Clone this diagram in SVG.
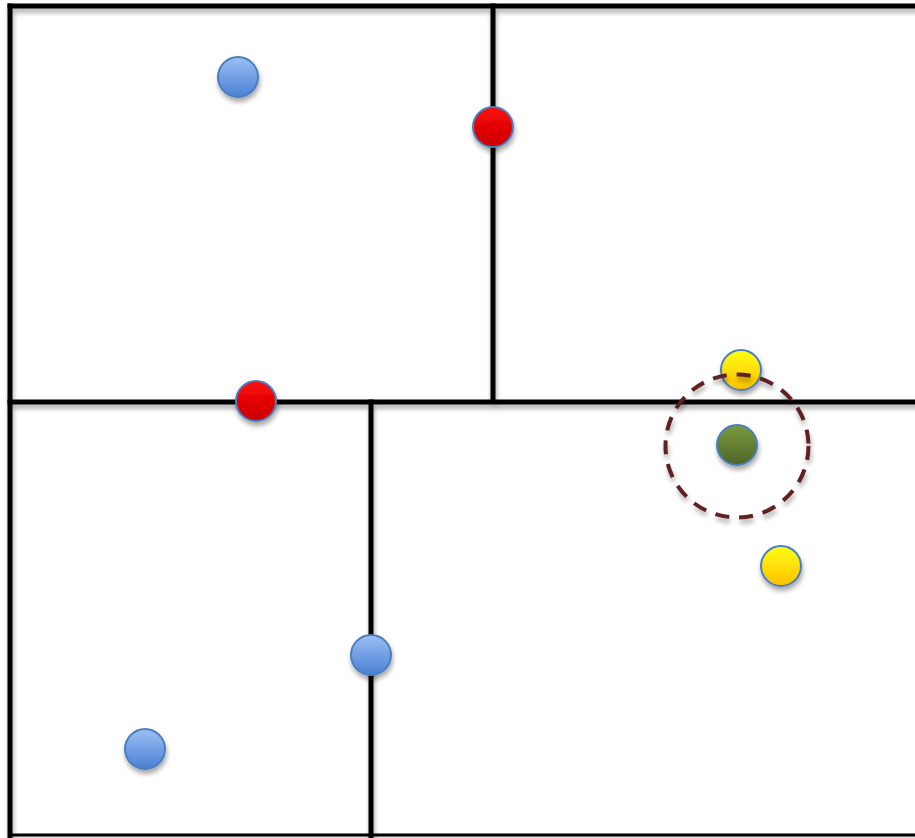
<svg xmlns="http://www.w3.org/2000/svg" width="915" height="838" viewBox="0 0 915 838">
<defs>
<filter id="sh" x="-20%" y="-20%" width="140%" height="160%">
<feGaussianBlur in="SourceAlpha" stdDeviation="2.5"/>
<feOffset dx="1" dy="4" result="b"/>
<feComponentTransfer><feFuncA type="linear" slope="0.35"/></feComponentTransfer>
<feMerge><feMergeNode/><feMergeNode in="SourceGraphic"/></feMerge>
</filter>
<linearGradient id="gBlue" x1="0" y1="0" x2="0" y2="1"><stop offset="0" stop-color="#9cc0f5"/><stop offset="1" stop-color="#4a80d2"/></linearGradient>
<linearGradient id="gRed" x1="0" y1="0" x2="0" y2="1"><stop offset="0" stop-color="#ff0a0a"/><stop offset="1" stop-color="#c80000"/></linearGradient>
<linearGradient id="gYel" x1="0" y1="0" x2="0" y2="1"><stop offset="0" stop-color="#ffff10"/><stop offset="1" stop-color="#ffbf00"/></linearGradient>
<linearGradient id="gGrn" x1="0" y1="0" x2="0" y2="1"><stop offset="0" stop-color="#7a9a3c"/><stop offset="1" stop-color="#4f6528"/></linearGradient>
</defs>
<style>
.ln{stroke:#000;stroke-width:5;fill:none;stroke-linecap:square}
.dot{stroke:#4a7ebf;stroke-width:2}
</style>
<rect width="915" height="838" fill="#fff"/>
<g id="connectors" filter="url(#sh)">
<line class="ln" x1="10" y1="6" x2="918" y2="6"/>
<line class="ln" x1="10" y1="6" x2="10" y2="840"/>
<line class="ln" x1="10" y1="835" x2="918" y2="835" style="stroke-width:3"/>
<line class="ln" x1="493" y1="6" x2="493" y2="400"/>
<line class="ln" x1="10" y1="402" x2="918" y2="402"/>
<line class="ln" x1="371" y1="402" x2="371" y2="840"/>
</g>
<g id="n1" filter="url(#sh)"><circle class="dot" cx="238" cy="77" r="20" fill="url(#gBlue)"/></g>
<g id="n2" filter="url(#sh)"><circle class="dot" cx="493" cy="127" r="20" fill="url(#gRed)"/></g>
<g id="n3" filter="url(#sh)"><circle class="dot" cx="256" cy="401" r="20" fill="url(#gRed)"/></g>
<g id="n4" filter="url(#sh)"><circle class="dot" cx="741" cy="370" r="20" fill="url(#gYel)"/></g>
<g id="range" filter="url(#sh)">
<circle cx="737" cy="446" r="71.5" fill="none" stroke="#5e2020" stroke-width="4" stroke-dasharray="14 10"/>
</g>
<g id="n5" filter="url(#sh)"><circle class="dot" cx="737" cy="445" r="20" fill="url(#gGrn)"/></g>
<g id="n6" filter="url(#sh)"><circle class="dot" cx="781" cy="566" r="20" fill="url(#gYel)"/></g>
<g id="n7" filter="url(#sh)"><circle class="dot" cx="371" cy="655" r="20" fill="url(#gBlue)"/></g>
<g id="n8" filter="url(#sh)"><circle class="dot" cx="145" cy="749" r="20" fill="url(#gBlue)"/></g>
</svg>
